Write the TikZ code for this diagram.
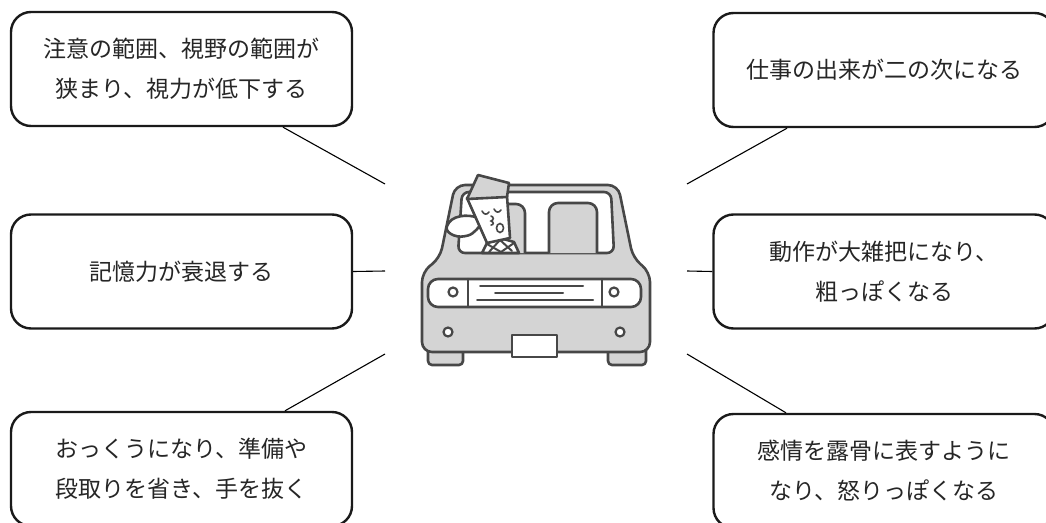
\documentclass[tikz,border=0pt]{standalone}
\usepackage{fontspec}
\newfontfamily\jp{Noto Sans CJK JP}
\usetikzlibrary{calc}
\definecolor{ink}{HTML}{1A1A1A}
\definecolor{txt}{HTML}{262626}
\definecolor{carline}{HTML}{474747}
\definecolor{carfill}{HTML}{D4D4D4}
\begin{document}
\begin{tikzpicture}[x=1pt,y=-1pt,
  note/.style={draw=ink, line width=2.4pt, rounded corners=20pt, fill=white,
    minimum width=341pt, minimum height=114pt, inner sep=0pt, align=center,
    text=txt, font=\jp\fontsize{23}{40}\selectfont},
  link/.style={draw=black, line width=1.1pt},
  carpart/.style={draw=carline, line width=2.6pt, line join=round, fill=carfill},
  whitepart/.style={draw=carline, line width=2.6pt, line join=round, fill=white},
  thin/.style={draw=carline, line width=2pt, line cap=round}]
\clip (0,0) rectangle (1046,522);

% callout boxes
\node[note] (tl) at (181.5,69)  {注意の範囲、視野の範囲が\\狭まり、視力が低下する};
\node[note] (tr) at (884,70)    {仕事の出来が二の次になる};
\node[note] (ml) at (181.5,271.5) {記憶力が衰退する};
\node[note] (mr) at (884,271.5) {動作が大雑把になり、\\粗っぽくなる};
\node[note] (bl) at (181.5,469) {おっくうになり、準備や\\段取りを省き、手を抜く};
\node[note] (br) at (884,471)   {感情を露骨に表すように\\なり、怒りっぽくなる};

% free ends of the connectors, next to the car
\coordinate (ctl) at (385,184);
\coordinate (ctr) at (687,184);
\coordinate (cml) at (385,271);
\coordinate (cmr) at (687,271);
\coordinate (cbl) at (385,354);
\coordinate (cbr) at (687,354);

\draw[link] ($(tl.south)+(101.5,0)$) -- (ctl);
\draw[link] ($(tr.south)+(-97,0)$) -- (ctr);
\draw[link] (ml.east) -- (cml);
\draw[link] (mr.west) -- (cmr);
\draw[link] ($(bl.north)+(103.5,0)$) -- (cbl);
\draw[link] ($(br.north)+(-98,0)$) -- (cbr);

% car: wheels
\draw[carpart, rounded corners=4pt] (428,345) -- (428,365) -- (463,365) -- (463,345);
\draw[carpart, rounded corners=4pt] (608,345) -- (608,365) -- (646,365) -- (646,345);
% car: body and cabin
\draw[carpart, rounded corners=10pt] (422,352) -- (422,272) -- (440,258) -- (455,185)
  -- (618,185) -- (633,258) -- (650,272) -- (650,352) -- cycle;
% windshield
\draw[whitepart, rounded corners=7pt] (462,192) -- (611,192) -- (614,253) -- (458,253) -- cycle;
% seats
\draw[carpart, rounded corners=9pt] (549,253) -- (549,203) -- (597,203) -- (597,253);
\draw[carpart, rounded corners=9pt] (497,253) -- (497,204) -- (525,204) -- (525,253);

% driver: hand, shirt, face, cap
\draw[whitepart, rounded corners=2pt] (482,221) .. controls (474,214) and (455,214) .. (448,224)
  .. controls (444,232) and (455,238) .. (466,236) .. controls (474,234) and (480,226) .. cycle;
\draw[whitepart] (482,253) -- (487,243) -- (500,238) -- (514,242) -- (519,253) -- cycle;
\draw[thin] (487,244) -- (501,252) -- (514,243);
\draw[thin] (489,252) -- (500,240) -- (512,251);
\draw[whitepart] (467,198) -- (507,196) -- (510,238) -- (487,243) -- cycle;
\draw[carpart] (478,175) -- (509,183) -- (507,197) -- (467,199) -- cycle;
% closed eyes and mouth
\draw[thin, line width=1.6pt] (482,211) .. controls (484,215) and (487,215) .. (489,212);
\draw[thin, line width=1.6pt] (494,209) .. controls (496,213) and (499,213) .. (501,210);
\draw[thin, line width=1.6pt] (491,216) .. controls (494,217) and (494,220) .. (491,221)
  .. controls (494,222) and (494,225) .. (491,225);
\draw[carline, line width=1.6pt] (500,228) ellipse (3.5pt and 4.5pt);

% grille band with headlights
\draw[whitepart, rounded corners=10pt] (428,279) rectangle (641,307);
\draw[thin, line width=2.4pt] (468,279) -- (468,307);
\draw[thin, line width=2.4pt] (602,279) -- (602,307);
\draw[carline, line width=2.2pt, fill=white] (453,292) circle (4.5pt);
\draw[carline, line width=2.2pt, fill=white] (614,292) circle (4.5pt);
\draw[thin] (480,286) -- (583,286);
\draw[thin] (495,293) -- (563,293);
\draw[thin] (477,300) -- (593,300);
% lower lamps and number plate
\draw[carline, line width=2.2pt, fill=white] (448,332) circle (4.5pt);
\draw[carline, line width=2.2pt, fill=white] (620,332) circle (4.5pt);
\draw[whitepart] (512,335) rectangle (557,357);
\end{tikzpicture}
\end{document}
